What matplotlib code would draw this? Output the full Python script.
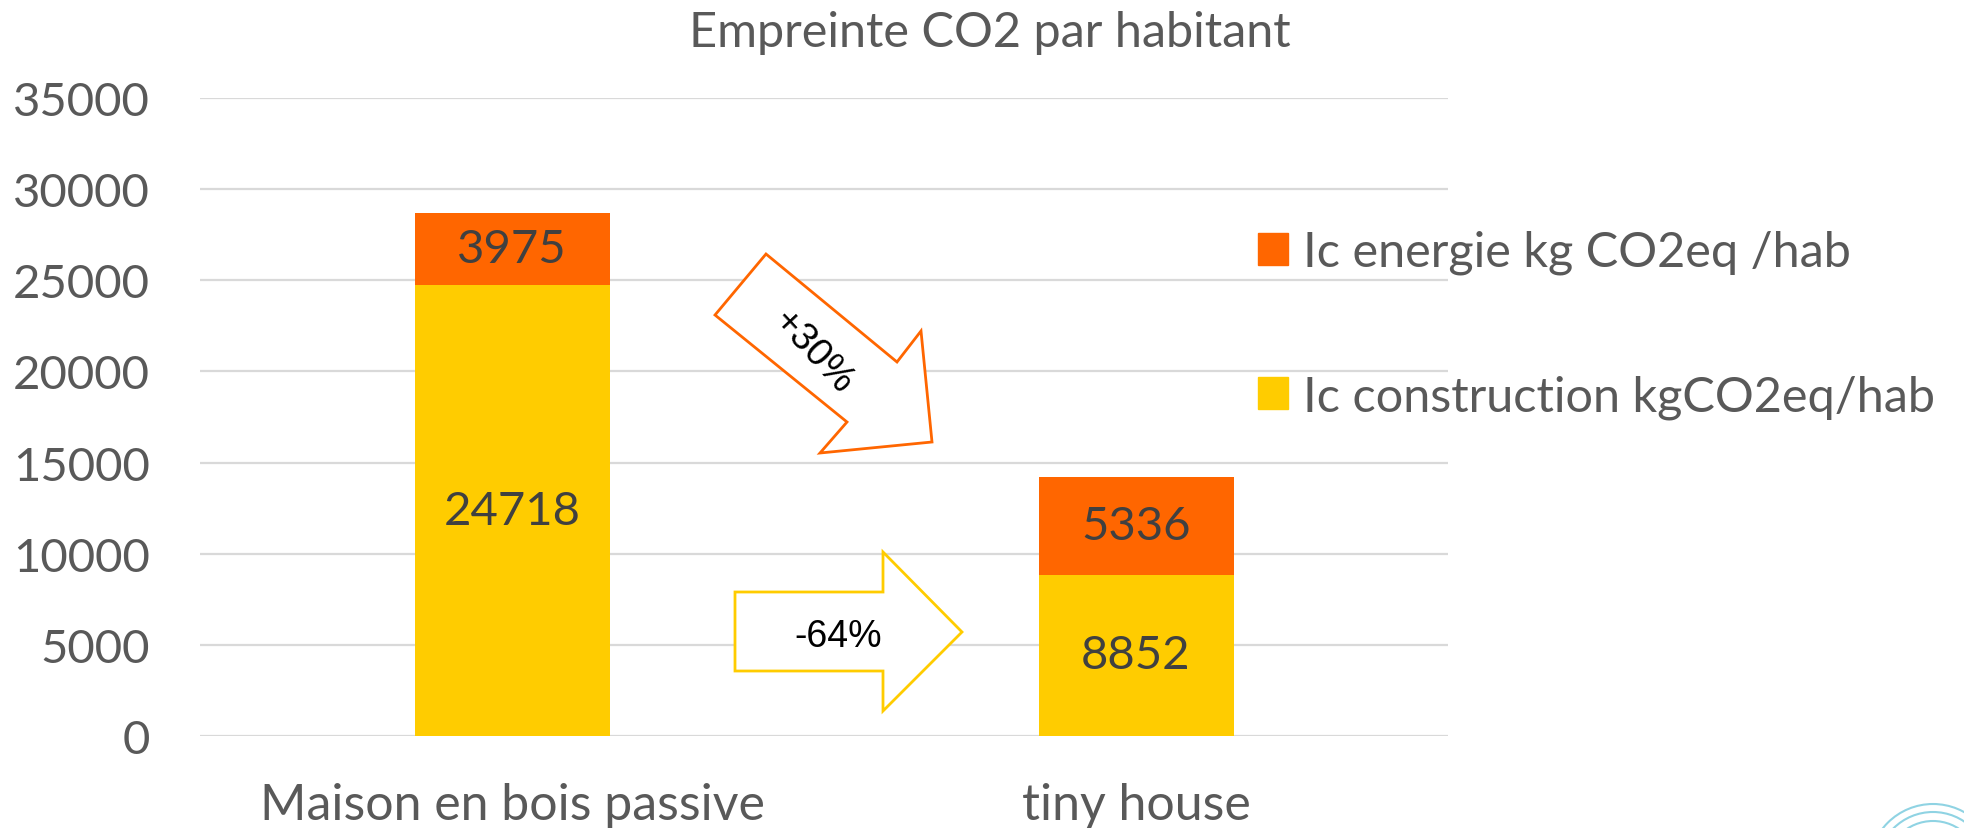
import matplotlib.pyplot as plt
from matplotlib.patches import Polygon, Ellipse, Patch
import numpy as np

# données
categories = ["Maison en bois passive", "tiny house"]
construction = [24718, 8852]
energie = [3975, 5336]
yticks = [0, 5000, 10000, 15000, 20000, 25000, 30000, 35000]
title = "Empreinte CO2 par habitant"
label_energie = "Ic energie kg CO2eq /hab"
label_construction = "Ic construction kgCO2eq/hab"

c_energie = '#ff6600'
c_construction = '#ffcc00'
c_text = '#595959'
c_val = '#404040'

W, H = 1965, 829
plt.rcParams['font.family'] = ['Lato', 'DejaVu Sans']

fig = plt.figure(figsize=(W / 100, H / 100), dpi=100)
ax = fig.add_axes([200 / W, 1 - 737 / H, 1248 / W, 638 / H])

x = np.arange(len(categories))
bw = 0.3125
ax.bar(x, construction, bw, color=c_construction, zorder=2)
ax.bar(x, energie, bw, bottom=construction, color=c_energie, zorder=2)

# valeurs dans les barres
for i in range(len(categories)):
    ax.text(x[i], construction[i] / 2, str(construction[i]), ha='center', va='center',
            fontsize=34, color=c_val, zorder=3)
    ax.text(x[i], construction[i] + energie[i] / 2, str(energie[i]), ha='center', va='center',
            fontsize=34, color=c_val, zorder=3)

ax.set_xlim(-0.5, 1.5)
ax.set_ylim(0, 35000)
ax.set_yticks(yticks)
ax.set_yticklabels([str(v) for v in yticks])
ax.set_xticks(x)
ax.set_xticklabels(categories)
ax.tick_params(axis='y', length=0, pad=36, labelsize=34, labelcolor=c_text)
ax.tick_params(axis='x', length=0, pad=33, labelsize=36, labelcolor=c_text)
ax.yaxis.grid(True, color='#d9d9d9', linewidth=1.6, zorder=0)
ax.set_axisbelow(True)
for s in ax.spines.values():
    s.set_visible(False)

fig.text(990 / W, 1 - 33 / H, title, ha='center', va='center', fontsize=35, color=c_text)

# légende
handles = [Patch(color=c_energie, label=label_energie),
           Patch(color=c_construction, label=label_construction)]
fig.legend(handles=handles, loc='upper left', bbox_to_anchor=(1258 / W, 1 - 231 / H),
           frameon=False, fontsize=35, labelcolor=c_text, borderpad=0, borderaxespad=0,
           handlelength=0.62, handleheight=0.62, handletextpad=0.3, labelspacing=2.05)

# flèches
def fpts(pts):
    return [(px / W, 1 - py / H) for px, py in pts]

arrow_up = [(766, 255), (715, 316), (847, 423), (820, 454), (932, 443), (921, 332), (897, 363)]
fig.patches.append(Polygon(fpts(arrow_up), closed=True, facecolor='white', edgecolor=c_energie,
                           linewidth=2, transform=fig.transFigure, figure=fig))
fig.text(813 / W, 1 - 352 / H, "+30%", rotation=-47, ha='center', va='center', fontsize=28,
         color='black', family=['Liberation Sans'], rotation_mode='anchor')

arrow_down = [(735, 593), (883, 593), (883, 553), (962, 633), (883, 712), (883, 672), (735, 672)]
fig.patches.append(Polygon(fpts(arrow_down), closed=True, facecolor='white', edgecolor=c_construction,
                           linewidth=2, transform=fig.transFigure, figure=fig))
fig.text(838 / W, 1 - 637 / H, "-64%", ha='center', va='center', fontsize=27,
         color='black', family=['Liberation Sans'])

# logo (coin)
for r in [64, 56, 47]:
    fig.patches.append(Ellipse((1933 / W, 1 - 869 / H), 2 * r / W, 2 * r / H, fill=False,
                               edgecolor='#8fd3e3', linewidth=1.5, transform=fig.transFigure, figure=fig))

fig.savefig('out.png', dpi=100)
